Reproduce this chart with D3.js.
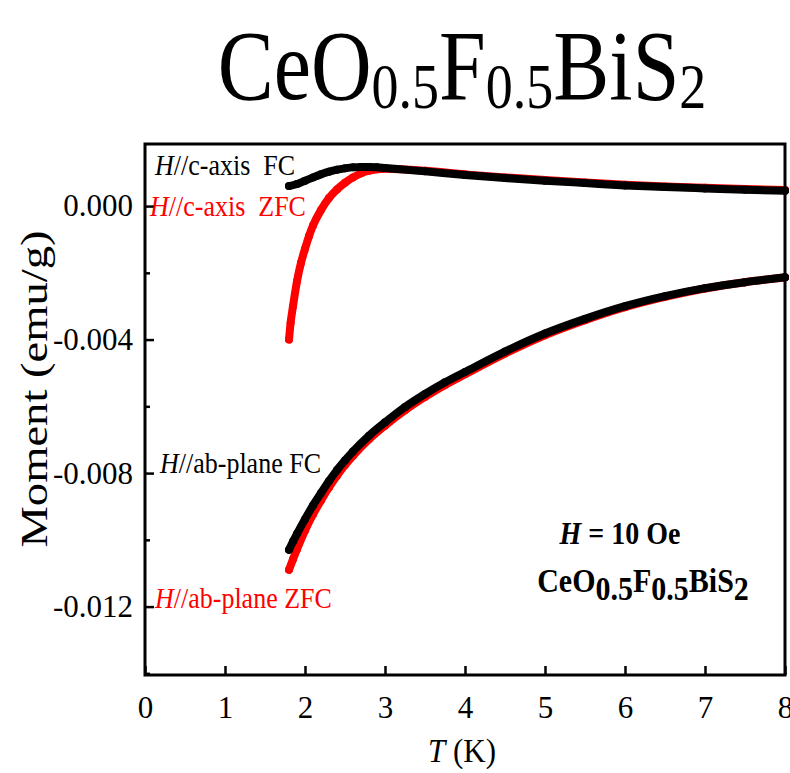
<!DOCTYPE html>
<html>
<head>
<meta charset="utf-8">
<script src="https://cdn.jsdelivr.net/npm/d3@7"></script>
<style>
  body { margin: 0; background: #fff; }
  svg text { font-family: "Liberation Serif", "Times New Roman", serif; }
</style>
</head>
<body>
<svg id="chart" width="790" height="773"></svg>
<script>
// readings from the figure (T in K, moment in emu/g)
var cFcT   = [1.8, 1.9, 2.0, 2.1, 2.2, 2.3, 2.4, 2.5, 2.6, 2.7, 2.8, 2.9, 3.0, 3.5, 4.0, 4.5, 5.0, 5.5, 6.0, 6.5, 7.0, 7.5, 8.0];
var cFcM   = [0.00060, 0.00066, 0.00076, 0.00086, 0.00095, 0.00103, 0.00109, 0.00113, 0.00116, 0.00117, 0.00117, 0.00116, 0.00114, 0.00104, 0.00093, 0.00084, 0.00076, 0.00069, 0.00062, 0.00057, 0.00053, 0.00049, 0.00046];
var cZfcT  = [1.8, 1.82, 1.85, 1.9, 1.95, 2.0, 2.05, 2.1, 2.2, 2.3, 2.4, 2.5, 2.6, 2.7, 2.8, 2.9, 3.0, 3.5, 4.0, 4.5, 5.0, 5.5, 6.0, 6.5, 7.0, 7.5, 8.0];
var cZfcM  = [-0.00400, -0.00350, -0.00300, -0.00225, -0.00170, -0.00128, -0.00090, -0.00058, -0.00012, 0.00024, 0.00050, 0.00070, 0.00086, 0.00098, 0.00106, 0.00110, 0.00112, 0.00106, 0.00095, 0.00086, 0.00078, 0.00071, 0.00064, 0.00059, 0.00055, 0.00051, 0.00048];
var abFcT  = [1.8, 1.85, 1.9, 2.0, 2.1, 2.2, 2.3, 2.4, 2.5, 2.6, 2.8, 3.0, 3.25, 3.5, 3.75, 4.0, 4.5, 5.0, 5.5, 6.0, 6.5, 7.0, 7.5, 8.0];
var abFcM  = [-0.01030, -0.01005, -0.00982, -0.00938, -0.00897, -0.00860, -0.00824, -0.00791, -0.00762, -0.00735, -0.00688, -0.00648, -0.00602, -0.00563, -0.00528, -0.00497, -0.00436, -0.00382, -0.00338, -0.00300, -0.00270, -0.00246, -0.00228, -0.00213];
var abZfcT = [1.8, 1.85, 1.9, 2.0, 2.1, 2.2, 2.3, 2.4, 2.5, 2.6, 2.8, 3.0, 3.25, 3.5, 3.75, 4.0, 4.5, 5.0, 5.5, 6.0, 6.5, 7.0, 7.5, 8.0];
var abZfcM = [-0.01090, -0.01058, -0.01028, -0.00972, -0.00924, -0.00882, -0.00843, -0.00808, -0.00776, -0.00748, -0.00699, -0.00658, -0.00612, -0.00572, -0.00536, -0.00504, -0.00442, -0.00387, -0.00342, -0.00303, -0.00272, -0.00247, -0.00228, -0.00214];

var xTicks = [0, 1, 2, 3, 4, 5, 6, 7, 8];
var yTicks = [0, -0.004, -0.008, -0.012];
var yMinorTicks = [-0.002, -0.006, -0.010, -0.014];

var svg = d3.select("#chart");
var plotL = 145, plotR = 785, plotT = 144, plotB = 675;

var x = d3.scaleLinear().domain([0, 8]).range([plotL, plotR]);
var y = d3.scaleLinear().domain([-0.01405, 0.00186]).range([plotB, plotT]);

// title (the figure's lettering is a bit taller than plain Times)
var title = svg.append("text")
  .attr("transform", "translate(462,99) scale(1,1.18)")
  .attr("text-anchor", "middle")
  .attr("font-size", 84);
title.append("tspan").text("CeO");
title.append("tspan").attr("font-size", 54).attr("dy", 8).text("0.5");
title.append("tspan").attr("dy", -8).text("F");
title.append("tspan").attr("font-size", 54).attr("dy", 8).text("0.5");
title.append("tspan").attr("dy", -8).text("BiS");
title.append("tspan").attr("font-size", 54).attr("dy", 8).text("2");

// axes
var fmtY = function(d) { return d3.format(".3f")(d).replace("\u2212", "-"); };
var xAxis = d3.axisBottom(x).tickValues(xTicks).tickSize(-9).tickPadding(21).tickFormat(d3.format("d"));
var gx = svg.append("g").attr("transform", "translate(0," + plotB + ")").call(xAxis);
var yAxis = d3.axisLeft(y).tickValues(yTicks).tickSize(-9).tickPadding(12).tickFormat(fmtY);
var gy = svg.append("g").attr("transform", "translate(" + plotL + ",0)").call(yAxis);
var gm = svg.append("g").attr("transform", "translate(" + plotL + ",0)")
  .call(d3.axisLeft(y).tickValues(yMinorTicks).tickSize(-5).tickFormat(""));

[gx, gy, gm].forEach(function(g) {
  g.select(".domain").remove();
  g.selectAll(".tick line").attr("stroke", "#000").attr("stroke-width", 2.5);
  g.selectAll(".tick text").attr("font-size", 31).attr("fill", "#000")
    .style("font-family", "'Liberation Serif', serif");
});

// series
function series(T, M, color) {
  var pts = T.map(function(t, i) { return [t, M[i]]; });
  var line = d3.line().x(function(d) { return x(d[0]); }).y(function(d) { return y(d[1]); })
    .curve(d3.curveMonotoneX);
  svg.append("path").datum(pts).attr("d", line)
    .attr("fill", "none").attr("stroke", color).attr("stroke-width", 8)
    .attr("stroke-linecap", "round").attr("stroke-linejoin", "round");
  svg.append("g").selectAll("circle").data(pts).enter().append("circle")
    .attr("cx", function(d) { return x(d[0]); })
    .attr("cy", function(d) { return y(d[1]); })
    .attr("r", 4).attr("fill", color);
}
series(cZfcT, cZfcM, "#ff0000");
series(abZfcT, abZfcM, "#ff0000");
series(cFcT, cFcM, "#000000");
series(abFcT, abFcM, "#000000");

// frame
svg.append("rect").attr("x", plotL).attr("y", plotT)
  .attr("width", plotR - plotL).attr("height", plotB - plotT)
  .attr("fill", "none").attr("stroke", "#000").attr("stroke-width", 3);

// labels for the curves
function hLabel(xp, yp, rest, color) {
  var t = svg.append("text").attr("transform", "translate(" + xp + "," + yp + ") scale(1,1.12)")
    .attr("font-size", 26).attr("fill", color)
    .style("white-space", "pre");
  t.append("tspan").attr("font-style", "italic").text("H");
  t.append("tspan").text(rest);
}
hLabel(155, 175, "//c-axis  FC", "#000");
hLabel(150, 216, "//c-axis  ZFC", "#ff0000");
hLabel(160, 473, "//ab-plane FC", "#000");
hLabel(155, 608, "//ab-plane ZFC", "#ff0000");

// field and compound note
var h = svg.append("text").attr("transform", "translate(620,544) scale(1,1.12)").attr("text-anchor", "middle")
  .attr("font-size", 28).attr("font-weight", "bold");
h.append("tspan").attr("font-style", "italic").text("H");
h.append("tspan").text(" = 10 Oe");

var c = svg.append("text").attr("transform", "translate(643,592) scale(1,1.12)").attr("text-anchor", "middle")
  .attr("font-size", 30).attr("font-weight", "bold");
c.append("tspan").text("CeO");
c.append("tspan").attr("dy", 7).text("0.5");
c.append("tspan").attr("dy", -7).text("F");
c.append("tspan").attr("dy", 7).text("0.5");
c.append("tspan").attr("dy", -7).text("BiS");
c.append("tspan").attr("dy", 7).text("2");

// axis titles
svg.append("text").attr("transform", "translate(47,389) scale(1,1.26) rotate(-90)")
  .attr("text-anchor", "middle").attr("font-size", 37).text("Moment (emu/g)");
var xt = svg.append("text").attr("transform", "translate(462,762) scale(1,1.12)").attr("text-anchor", "middle").attr("font-size", 31);
xt.append("tspan").attr("font-style", "italic").text("T");
xt.append("tspan").text(" (K)");
</script>
</body>
</html>
